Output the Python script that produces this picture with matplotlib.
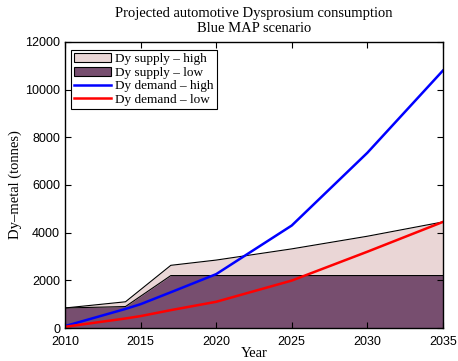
import matplotlib.pyplot as plt
from matplotlib.patches import Patch
from matplotlib.lines import Line2D

# supply (tonnes)
supply_years = [2010, 2014, 2017, 2020, 2025, 2030, 2035]
supply_high = [840, 1100, 2630, 2850, 3320, 3850, 4450]
supply_low = [840, 900, 2200, 2200, 2200, 2200, 2200]

# demand (tonnes)
demand_years = [2010, 2014, 2015, 2017, 2020, 2025, 2030, 2035]
demand_high = [80, 800, 1000, 1500, 2260, 4300, 7350, 10800]
demand_low = [50, 400, 500, 750, 1100, 1990, 3200, 4450]

c_high = '#ead6d6'
c_low = '#774e6f'

serif = 'Liberation Serif'
sans = 'Liberation Sans'

fig = plt.figure(figsize=(4.58, 3.61), dpi=100)
ax = fig.add_axes([0.142, 0.0914, 0.825, 0.7923])

ax.fill_between(supply_years, 0, supply_high, color=c_high, lw=0)
ax.plot(supply_years, supply_high, color='k', lw=0.8)
ax.fill_between(supply_years, 0, supply_low, color=c_low, lw=0)
ax.plot(supply_years, supply_low, color='k', lw=0.8)
ax.plot(demand_years, demand_high, color='#0000ff', lw=1.8)
ax.plot(demand_years, demand_low, color='#ff0000', lw=1.8)

ax.set_xlim(2010, 2035)
ax.set_ylim(0, 12000)
ax.set_xticks(range(2010, 2036, 5))
ax.set_yticks(range(0, 12001, 2000))
ax.tick_params(direction='in', top=True, right=True, labelsize=9, length=4)
ax.tick_params(axis='x', pad=6)
for lab in ax.get_xticklabels() + ax.get_yticklabels():
    lab.set_family(sans)
for s in ax.spines.values():
    s.set_linewidth(1.0)

ax.set_xlabel('Year', family=serif, fontsize=10.5, labelpad=-1)
ax.set_ylabel('Dy\u2013metal (tonnes)', family=serif, fontsize=10.5, labelpad=2)
ax.set_title('Projected automotive Dysprosium consumption\nBlue MAP scenario',
             family=serif, fontsize=10.5, linespacing=1.25, pad=7)

handles = [Patch(facecolor=c_high, edgecolor='k', lw=0.8),
           Patch(facecolor=c_low, edgecolor='k', lw=0.8),
           Line2D([], [], color='#0000ff', lw=1.8),
           Line2D([], [], color='#ff0000', lw=1.8)]
labels = ['Dy supply \u2013 high', 'Dy supply \u2013 low',
          'Dy demand \u2013 high', 'Dy demand \u2013 low']
leg = ax.legend(handles, labels, loc='upper left', bbox_to_anchor=(0.008, 0.982),
                prop={'family': serif, 'size': 9.5}, fancybox=False, framealpha=1,
                edgecolor='k', borderpad=0.25, labelspacing=0.1, handlelength=2.8,
                handletextpad=0.3, borderaxespad=0.2)
leg.get_frame().set_linewidth(0.8)

fig.savefig('out.png', dpi=100)
